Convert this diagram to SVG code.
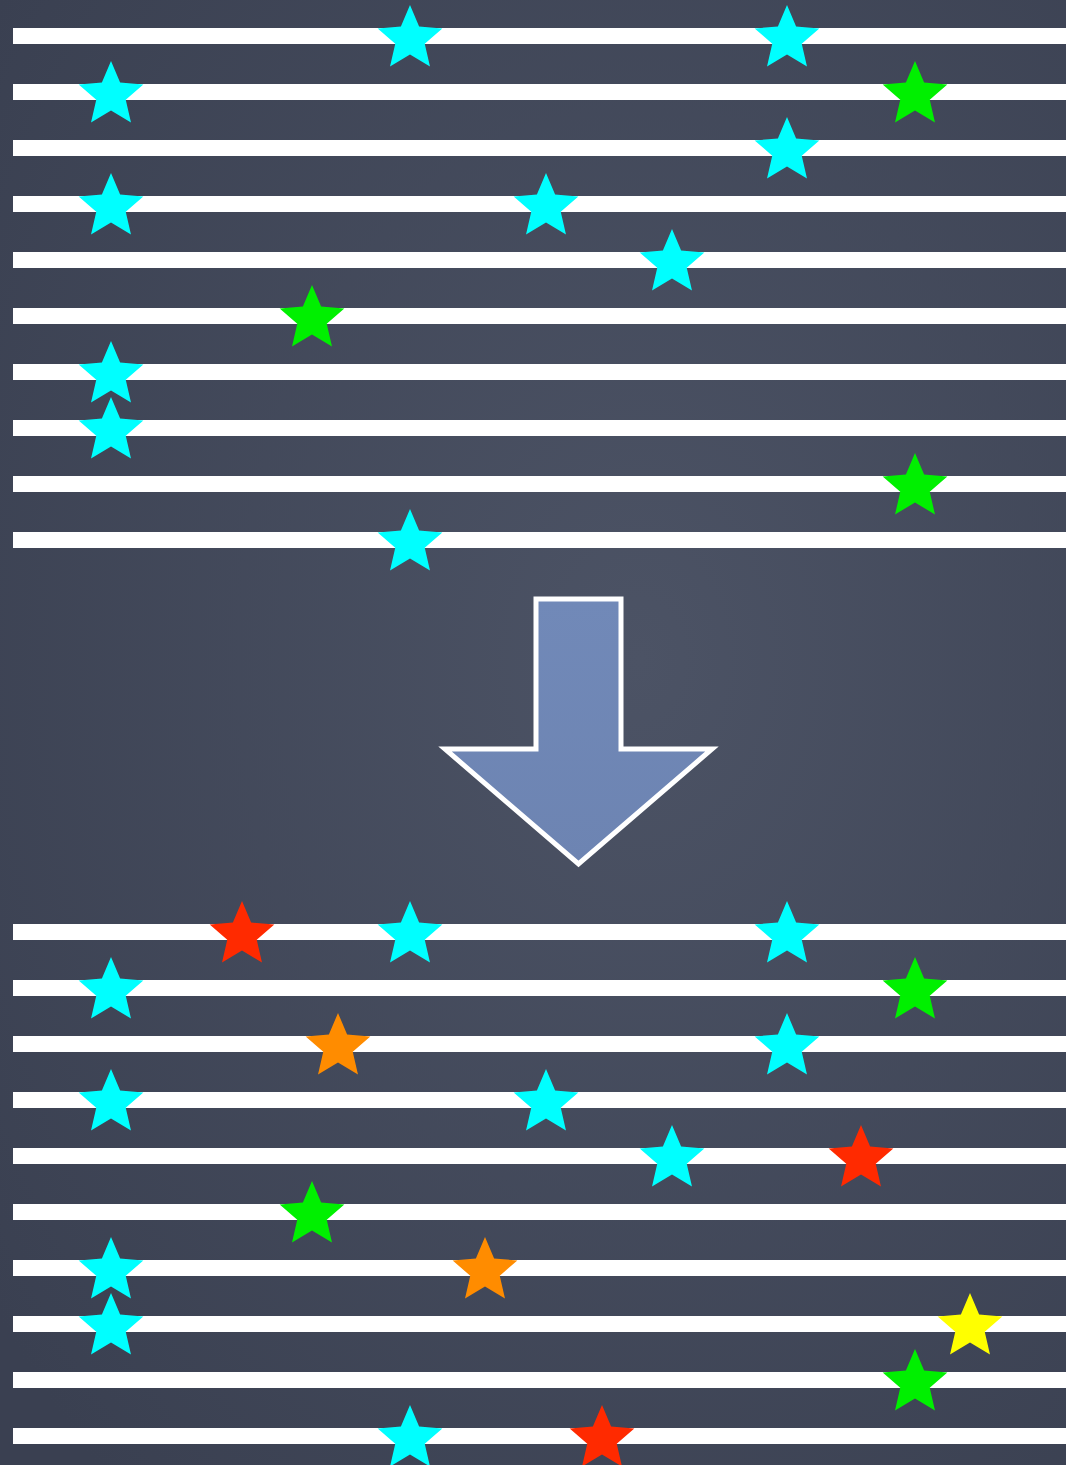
<svg xmlns="http://www.w3.org/2000/svg" xmlns:xlink="http://www.w3.org/1999/xlink" width="1066" height="1465" viewBox="0 0 1066 1465">
<defs>
<style>
.ln{fill:#ffffff}
.c{fill:#00ffff}
.g{fill:#00f000}
.r{fill:#ff2a00}
.o{fill:#ff8c00}
.y{fill:#ffff00}
</style>
<radialGradient id="bg" cx="0.6" cy="0.45" r="0.75">
<stop offset="0" stop-color="#4c5365"/>
<stop offset="1" stop-color="#3a4051"/>
</radialGradient>
<linearGradient id="arrowFill" x1="0" y1="0" x2="0" y2="1">
<stop offset="0" stop-color="#7189b8"/>
<stop offset="1" stop-color="#6d84b2"/>
</linearGradient>
<polygon id="star" points="0,-34 9.11,-12.54 32.34,-10.51 14.74,4.79 19.98,27.51 0,15.5 -19.98,27.51 -14.74,4.79 -32.34,-10.51 -9.11,-12.54"/>
</defs>
<rect x="0" y="0" width="1066" height="1465" fill="url(#bg)"/>
<g id="lines-top">
<rect class="ln" x="13" y="28" width="1053" height="16"/>
<rect class="ln" x="13" y="84" width="1053" height="16"/>
<rect class="ln" x="13" y="140" width="1053" height="16"/>
<rect class="ln" x="13" y="196" width="1053" height="16"/>
<rect class="ln" x="13" y="252" width="1053" height="16"/>
<rect class="ln" x="13" y="308" width="1053" height="16"/>
<rect class="ln" x="13" y="364" width="1053" height="16"/>
<rect class="ln" x="13" y="420" width="1053" height="16"/>
<rect class="ln" x="13" y="476" width="1053" height="16"/>
<rect class="ln" x="13" y="532" width="1053" height="16"/>
</g>
<g id="lines-bottom">
<rect class="ln" x="13" y="924" width="1053" height="16"/>
<rect class="ln" x="13" y="980" width="1053" height="16"/>
<rect class="ln" x="13" y="1036" width="1053" height="16"/>
<rect class="ln" x="13" y="1092" width="1053" height="16"/>
<rect class="ln" x="13" y="1148" width="1053" height="16"/>
<rect class="ln" x="13" y="1204" width="1053" height="16"/>
<rect class="ln" x="13" y="1260" width="1053" height="16"/>
<rect class="ln" x="13" y="1316" width="1053" height="16"/>
<rect class="ln" x="13" y="1372" width="1053" height="16"/>
<rect class="ln" x="13" y="1428" width="1053" height="16"/>
</g>
<g id="stars-top">
<use href="#star" class="c" x="410" y="39"/>
<use href="#star" class="c" x="787" y="39"/>
<use href="#star" class="c" x="111" y="95"/>
<use href="#star" class="g" x="915" y="95"/>
<use href="#star" class="c" x="787" y="151"/>
<use href="#star" class="c" x="111" y="207"/>
<use href="#star" class="c" x="546" y="207"/>
<use href="#star" class="c" x="672" y="263"/>
<use href="#star" class="g" x="312" y="319"/>
<use href="#star" class="c" x="111" y="375"/>
<use href="#star" class="c" x="111" y="431"/>
<use href="#star" class="g" x="915" y="487"/>
<use href="#star" class="c" x="410" y="543"/>
</g>
<g id="arrow">
<path d="M536 599 L621 599 L621 749 L712 749 L578.5 864 L445 749 L536 749 Z" fill="url(#arrowFill)" stroke="#ffffff" stroke-width="5" stroke-linejoin="miter"/>
</g>
<g id="stars-bottom">
<use href="#star" class="r" x="242" y="935"/>
<use href="#star" class="c" x="410" y="935"/>
<use href="#star" class="c" x="787" y="935"/>
<use href="#star" class="c" x="111" y="991"/>
<use href="#star" class="g" x="915" y="991"/>
<use href="#star" class="o" x="338" y="1047"/>
<use href="#star" class="c" x="787" y="1047"/>
<use href="#star" class="c" x="111" y="1103"/>
<use href="#star" class="c" x="546" y="1103"/>
<use href="#star" class="c" x="672" y="1159"/>
<use href="#star" class="r" x="861" y="1159"/>
<use href="#star" class="g" x="312" y="1215"/>
<use href="#star" class="c" x="111" y="1271"/>
<use href="#star" class="o" x="485" y="1271"/>
<use href="#star" class="c" x="111" y="1327"/>
<use href="#star" class="y" x="970" y="1327"/>
<use href="#star" class="g" x="915" y="1383"/>
<use href="#star" class="c" x="410" y="1439"/>
<use href="#star" class="r" x="602" y="1439"/>
</g>
</svg>
